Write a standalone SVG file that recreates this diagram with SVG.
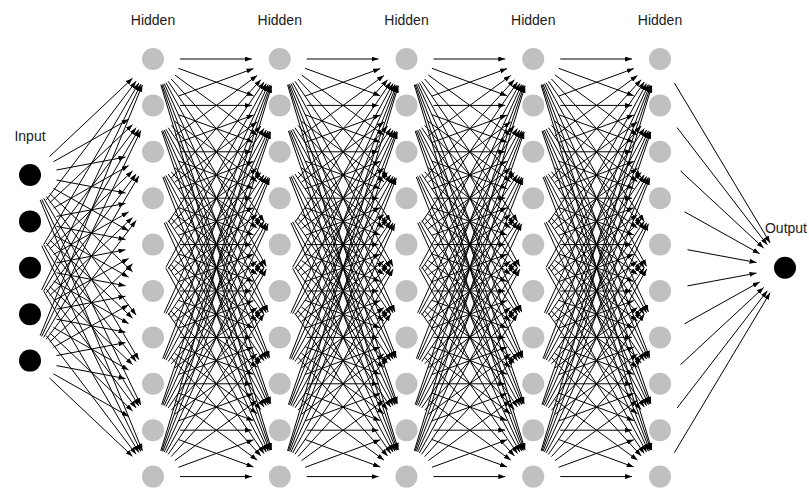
<svg xmlns="http://www.w3.org/2000/svg" xmlns:xlink="http://www.w3.org/1999/xlink" width="809" height="491" viewBox="0 0 809 491">
<style>
.e path{fill:none;stroke:#000;stroke-width:1;marker-end:url(#ah)}
.h{fill:#c0c0c0}
.b{fill:#000}
.t{font-family:"Liberation Sans",Arial,sans-serif;font-size:14px;fill:#1a1a1a;text-anchor:middle}
</style>
<defs>
<marker id="ah" viewBox="0 0 7 5" refX="7" refY="2.5" markerWidth="7" markerHeight="5" markerUnits="userSpaceOnUse" orient="auto"><path d="M0,0L7,2.5L0,5z" fill="#000"/></marker>
<g id="dense" class="e">
<path d="M27 59L98.8 59"/><path d="M25.4 68.3L100.5 95.8"/><path d="M21.8 75L104.2 135.3"/><path d="M18.2 79L107.9 177.5"/><path d="M15.2 81.3L111 221.5"/><path d="M12.9 82.7L113.3 266.4"/><path d="M11.2 83.6L115.2 311.9"/><path d="M9.8 84.2L116.6 357.7"/><path d="M8.7 84.6L117.7 403.7"/><path d="M7.8 84.8L118.6 449.8"/>
<path d="M25.4 96.1L100.5 68.6"/><path d="M27 105.4L98.8 105.4"/><path d="M25.4 114.7L100.5 142.2"/><path d="M21.8 121.4L104.2 181.7"/><path d="M18.2 125.4L107.9 223.9"/><path d="M15.2 127.7L111 267.9"/><path d="M12.9 129.1L113.3 312.8"/><path d="M11.2 130L115.2 358.3"/><path d="M9.8 130.6L116.6 404.1"/><path d="M8.7 131L117.7 450.1"/>
<path d="M21.8 135.8L104.2 75.5"/><path d="M25.4 142.5L100.5 115"/><path d="M27 151.8L98.8 151.8"/><path d="M25.4 161.1L100.5 188.6"/><path d="M21.8 167.8L104.2 228.1"/><path d="M18.2 171.8L107.9 270.3"/><path d="M15.2 174.1L111 314.3"/><path d="M12.9 175.5L113.3 359.2"/><path d="M11.2 176.4L115.2 404.7"/><path d="M9.8 177L116.6 450.5"/>
<path d="M18.2 178.2L107.9 79.7"/><path d="M21.8 182.2L104.2 121.9"/><path d="M25.4 188.9L100.5 161.4"/><path d="M27 198.2L98.8 198.2"/><path d="M25.4 207.5L100.5 235"/><path d="M21.8 214.2L104.2 274.5"/><path d="M18.2 218.2L107.9 316.7"/><path d="M15.2 220.5L111 360.7"/><path d="M12.9 221.9L113.3 405.6"/><path d="M11.2 222.8L115.2 451.1"/>
<path d="M15.2 222.3L111 82.1"/><path d="M18.2 224.6L107.9 126.1"/><path d="M21.8 228.6L104.2 168.3"/><path d="M25.4 235.3L100.5 207.8"/><path d="M27 244.6L98.8 244.6"/><path d="M25.4 253.9L100.5 281.4"/><path d="M21.8 260.6L104.2 320.9"/><path d="M18.2 264.6L107.9 363.1"/><path d="M15.2 266.9L111 407.1"/><path d="M12.9 268.3L113.3 452"/>
<path d="M12.9 267.3L113.3 83.6"/><path d="M15.2 268.7L111 128.5"/><path d="M18.2 271L107.9 172.5"/><path d="M21.8 275L104.2 214.7"/><path d="M25.4 281.7L100.5 254.2"/><path d="M27 291L98.8 291"/><path d="M25.4 300.3L100.5 327.8"/><path d="M21.8 307L104.2 367.3"/><path d="M18.2 311L107.9 409.5"/><path d="M15.2 313.3L111 453.5"/>
<path d="M11.2 312.8L115.2 84.5"/><path d="M12.9 313.7L113.3 130"/><path d="M15.2 315.1L111 174.9"/><path d="M18.2 317.4L107.9 218.9"/><path d="M21.8 321.4L104.2 261.1"/><path d="M25.4 328.1L100.5 300.6"/><path d="M27 337.4L98.8 337.4"/><path d="M25.4 346.7L100.5 374.2"/><path d="M21.8 353.4L104.2 413.7"/><path d="M18.2 357.4L107.9 455.9"/>
<path d="M9.8 358.6L116.6 85.1"/><path d="M11.2 359.2L115.2 130.9"/><path d="M12.9 360.1L113.3 176.4"/><path d="M15.2 361.5L111 221.3"/><path d="M18.2 363.8L107.9 265.3"/><path d="M21.8 367.8L104.2 307.5"/><path d="M25.4 374.5L100.5 347"/><path d="M27 383.8L98.8 383.8"/><path d="M25.4 393.1L100.5 420.6"/><path d="M21.8 399.8L104.2 460.1"/>
<path d="M8.7 404.6L117.7 85.5"/><path d="M9.8 405L116.6 131.5"/><path d="M11.2 405.6L115.2 177.3"/><path d="M12.9 406.5L113.3 222.8"/><path d="M15.2 407.9L111 267.7"/><path d="M18.2 410.2L107.9 311.7"/><path d="M21.8 414.2L104.2 353.9"/><path d="M25.4 420.9L100.5 393.4"/><path d="M27 430.2L98.8 430.2"/><path d="M25.4 439.5L100.5 467"/>
<path d="M7.8 450.8L118.6 85.8"/><path d="M8.7 451L117.7 131.9"/><path d="M9.8 451.4L116.6 177.9"/><path d="M11.2 452L115.2 223.7"/><path d="M12.9 452.9L113.3 269.2"/><path d="M15.2 454.3L111 314.1"/><path d="M18.2 456.6L107.9 358.1"/><path d="M21.8 460.6L104.2 400.3"/><path d="M25.4 467.3L100.5 439.8"/><path d="M27 476.6L98.8 476.6"/>
</g>
</defs>
<rect width="809" height="491" fill="#fff"/>
<g id="connectors" class="e">
<g id="input-to-h1">
<path d="M49.6 156.5L132.6 78.2"/><path d="M53.5 161.7L128.6 119.2"/><path d="M56.5 170L125.5 157"/><path d="M56.5 180L125.5 193"/><path d="M53.5 188.3L128.6 230.8"/><path d="M49.6 193.5L132.6 271.8"/><path d="M46.3 196.5L136.1 315.1"/><path d="M43.7 198.3L138.8 359.7"/><path d="M41.7 199.3L140.8 405"/><path d="M40.2 200L142.4 450.7"/>
<path d="M46.3 199.9L136.1 81.3"/><path d="M49.6 202.9L132.6 124.6"/><path d="M53.5 208.1L128.6 165.6"/><path d="M56.5 216.4L125.5 203.4"/><path d="M56.5 226.4L125.5 239.4"/><path d="M53.5 234.7L128.6 277.2"/><path d="M49.6 239.9L132.6 318.2"/><path d="M46.3 242.9L136.1 361.5"/><path d="M43.7 244.7L138.8 406.1"/><path d="M41.7 245.7L140.8 451.4"/>
<path d="M43.7 244.5L138.8 83.1"/><path d="M46.3 246.3L136.1 127.7"/><path d="M49.6 249.3L132.6 171"/><path d="M53.5 254.5L128.6 212"/><path d="M56.5 262.8L125.5 249.8"/><path d="M56.5 272.8L125.5 285.8"/><path d="M53.5 281.1L128.6 323.6"/><path d="M49.6 286.3L132.6 364.6"/><path d="M46.3 289.3L136.1 407.9"/><path d="M43.7 291.1L138.8 452.5"/>
<path d="M41.7 289.9L140.8 84.2"/><path d="M43.7 290.9L138.8 129.5"/><path d="M46.3 292.7L136.1 174.1"/><path d="M49.6 295.7L132.6 217.4"/><path d="M53.5 300.9L128.6 258.4"/><path d="M56.5 309.2L125.5 296.2"/><path d="M56.5 319.2L125.5 332.2"/><path d="M53.5 327.5L128.6 370"/><path d="M49.6 332.7L132.6 411"/><path d="M46.3 335.7L136.1 454.3"/>
<path d="M40.2 335.6L142.4 84.9"/><path d="M41.7 336.3L140.8 130.6"/><path d="M43.7 337.3L138.8 175.9"/><path d="M46.3 339.1L136.1 220.5"/><path d="M49.6 342.1L132.6 263.8"/><path d="M53.5 347.3L128.6 304.8"/><path d="M56.5 355.6L125.5 342.6"/><path d="M56.5 365.6L125.5 378.6"/><path d="M53.5 373.9L128.6 416.4"/><path d="M49.6 378.1L132.6 456.4"/>
</g>
<use id="h1-to-h2" xlink:href="#dense" transform="translate(153,0)"/>
<use id="h2-to-h3" xlink:href="#dense" transform="translate(279.75,0)"/>
<use id="h3-to-h4" xlink:href="#dense" transform="translate(406.5,0)"/>
<use id="h4-to-h5" xlink:href="#dense" transform="translate(533.25,0)"/>
<g id="h5-to-output">
<path d="M674.4 83L770.1 242.9"/><path d="M677.1 127.6L767.3 244.8"/><path d="M680.5 170.9L763.7 248.1"/><path d="M684.5 211.8L759.7 253.7"/><path d="M687.5 249.7L756.5 262.5"/><path d="M687.5 285.9L756.5 273.1"/><path d="M684.5 323.8L759.7 281.9"/><path d="M680.5 364.7L763.7 287.5"/><path d="M677.1 408L767.3 290.8"/><path d="M674.4 452.6L770.1 292.7"/>
</g>
</g>
<g id="labels" class="t">
<text x="30" y="141">Input</text>
<text x="153" y="25">Hidden</text>
<text x="279.75" y="25">Hidden</text>
<text x="406.5" y="25">Hidden</text>
<text x="533.25" y="25">Hidden</text>
<text x="660" y="25">Hidden</text>
<text x="786" y="233">Output</text>
</g>
<g id="input-layer" class="b">
<g id="in1"><circle cx="30" cy="175" r="11"/></g>
<g id="in2"><circle cx="30" cy="221.4" r="11"/></g>
<g id="in3"><circle cx="30" cy="267.8" r="11"/></g>
<g id="in4"><circle cx="30" cy="314.2" r="11"/></g>
<g id="in5"><circle cx="30" cy="360.6" r="11"/></g>
</g>
<g id="hidden-1" class="h">
<g id="h1n1"><circle cx="153" cy="59" r="11"/></g><g id="h1n2"><circle cx="153" cy="105.4" r="11"/></g><g id="h1n3"><circle cx="153" cy="151.8" r="11"/></g><g id="h1n4"><circle cx="153" cy="198.2" r="11"/></g><g id="h1n5"><circle cx="153" cy="244.6" r="11"/></g><g id="h1n6"><circle cx="153" cy="291" r="11"/></g><g id="h1n7"><circle cx="153" cy="337.4" r="11"/></g><g id="h1n8"><circle cx="153" cy="383.8" r="11"/></g><g id="h1n9"><circle cx="153" cy="430.2" r="11"/></g><g id="h1n10"><circle cx="153" cy="476.6" r="11"/></g>
</g>
<g id="hidden-2" class="h">
<g id="h2n1"><circle cx="279.75" cy="59" r="11"/></g><g id="h2n2"><circle cx="279.75" cy="105.4" r="11"/></g><g id="h2n3"><circle cx="279.75" cy="151.8" r="11"/></g><g id="h2n4"><circle cx="279.75" cy="198.2" r="11"/></g><g id="h2n5"><circle cx="279.75" cy="244.6" r="11"/></g><g id="h2n6"><circle cx="279.75" cy="291" r="11"/></g><g id="h2n7"><circle cx="279.75" cy="337.4" r="11"/></g><g id="h2n8"><circle cx="279.75" cy="383.8" r="11"/></g><g id="h2n9"><circle cx="279.75" cy="430.2" r="11"/></g><g id="h2n10"><circle cx="279.75" cy="476.6" r="11"/></g>
</g>
<g id="hidden-3" class="h">
<g id="h3n1"><circle cx="406.5" cy="59" r="11"/></g><g id="h3n2"><circle cx="406.5" cy="105.4" r="11"/></g><g id="h3n3"><circle cx="406.5" cy="151.8" r="11"/></g><g id="h3n4"><circle cx="406.5" cy="198.2" r="11"/></g><g id="h3n5"><circle cx="406.5" cy="244.6" r="11"/></g><g id="h3n6"><circle cx="406.5" cy="291" r="11"/></g><g id="h3n7"><circle cx="406.5" cy="337.4" r="11"/></g><g id="h3n8"><circle cx="406.5" cy="383.8" r="11"/></g><g id="h3n9"><circle cx="406.5" cy="430.2" r="11"/></g><g id="h3n10"><circle cx="406.5" cy="476.6" r="11"/></g>
</g>
<g id="hidden-4" class="h">
<g id="h4n1"><circle cx="533.25" cy="59" r="11"/></g><g id="h4n2"><circle cx="533.25" cy="105.4" r="11"/></g><g id="h4n3"><circle cx="533.25" cy="151.8" r="11"/></g><g id="h4n4"><circle cx="533.25" cy="198.2" r="11"/></g><g id="h4n5"><circle cx="533.25" cy="244.6" r="11"/></g><g id="h4n6"><circle cx="533.25" cy="291" r="11"/></g><g id="h4n7"><circle cx="533.25" cy="337.4" r="11"/></g><g id="h4n8"><circle cx="533.25" cy="383.8" r="11"/></g><g id="h4n9"><circle cx="533.25" cy="430.2" r="11"/></g><g id="h4n10"><circle cx="533.25" cy="476.6" r="11"/></g>
</g>
<g id="hidden-5" class="h">
<g id="h5n1"><circle cx="660" cy="59" r="11"/></g><g id="h5n2"><circle cx="660" cy="105.4" r="11"/></g><g id="h5n3"><circle cx="660" cy="151.8" r="11"/></g><g id="h5n4"><circle cx="660" cy="198.2" r="11"/></g><g id="h5n5"><circle cx="660" cy="244.6" r="11"/></g><g id="h5n6"><circle cx="660" cy="291" r="11"/></g><g id="h5n7"><circle cx="660" cy="337.4" r="11"/></g><g id="h5n8"><circle cx="660" cy="383.8" r="11"/></g><g id="h5n9"><circle cx="660" cy="430.2" r="11"/></g><g id="h5n10"><circle cx="660" cy="476.6" r="11"/></g>
</g>
<g id="output-layer" class="b">
<g id="out1"><circle cx="785" cy="267.8" r="11"/></g>
</g>
</svg>
